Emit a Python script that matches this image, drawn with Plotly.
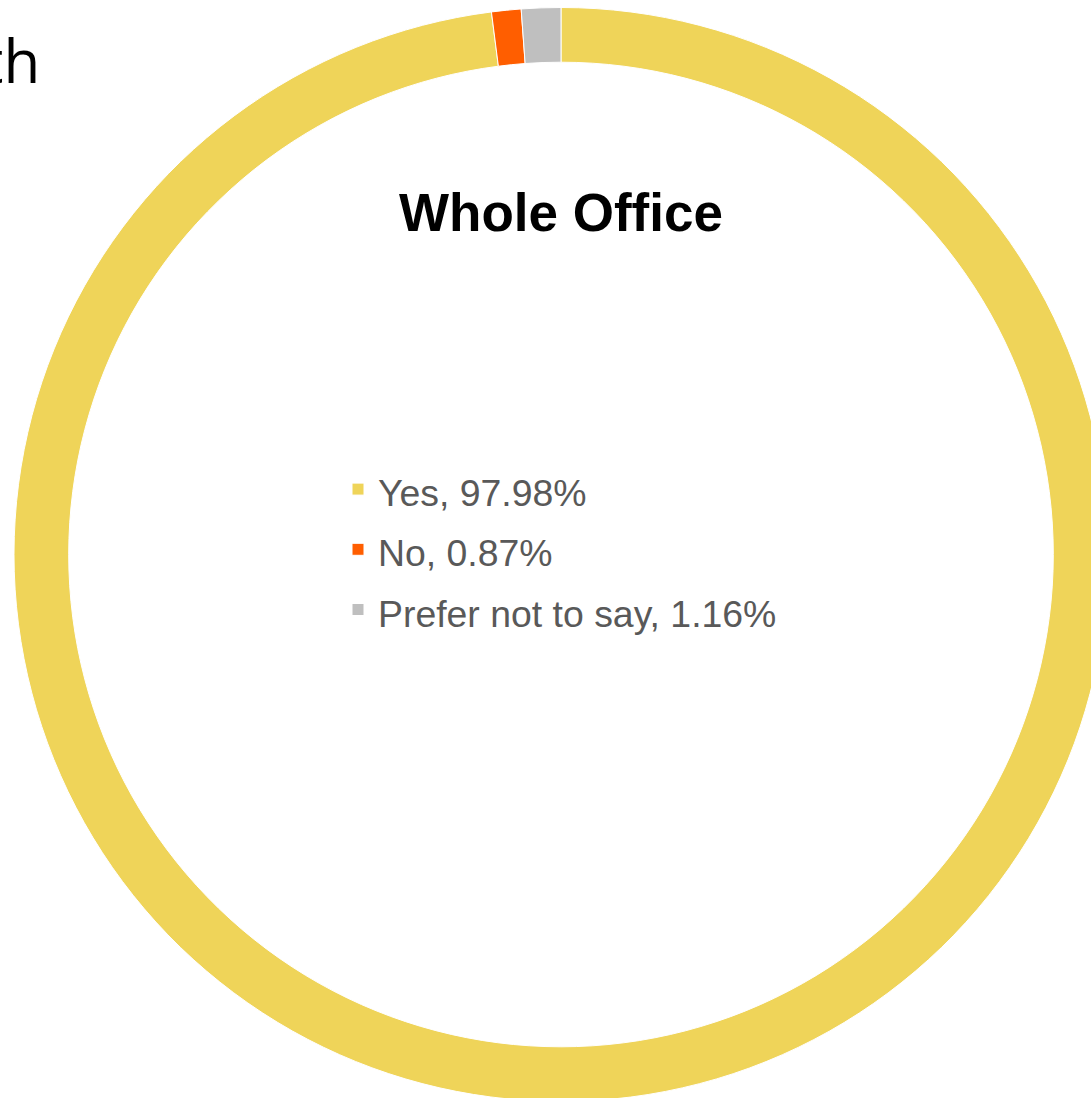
import plotly.graph_objects as go

categories = ["Yes", "No", "Prefer not to say"]
values = [97.98, 0.87, 1.16]
colors = ["#EFD459", "#FF5E00", "#BFBFBF"]
title_text = "Whole Office"
corner_text = "th"

W, H = 1108, 1102
labels = [f"<span style='font-size:37.4px'>{c}, {v:.2f}%</span>" for c, v in zip(categories, values)]

fig = go.Figure(go.Pie(
    labels=labels,
    values=values,
    hole=0.9,
    sort=False,
    direction="clockwise",
    rotation=0,
    textinfo="none",
    hoverinfo="label",
    marker=dict(colors=colors, line=dict(color="white", width=1)),
    domain=dict(x=[14 / W, 1.0], y=[0.5 / H, 1 - 7.5 / H]),
))

fig.update_layout(
    width=W, height=H,
    margin=dict(l=0, r=0, t=0, b=0),
    paper_bgcolor="white",
    showlegend=True,
    legend=dict(
        x=338 / W, xanchor="left",
        y=(H - 549.5) / H, yanchor="middle",
        font=dict(family="Liberation Sans, Arial, sans-serif", size=44, color="#595959"),
        bgcolor="rgba(0,0,0,0)",
    ),
    annotations=[
        dict(text=f"<b>{title_text}</b>", x=561 / W, y=(H - 212) / H,
             xref="paper", yref="paper", xanchor="center", yanchor="middle",
             showarrow=False,
             font=dict(family="Liberation Sans, Arial, sans-serif", size=53, color="black")),
        dict(text=corner_text, x=42 / W, y=(H - 60) / H,
             xref="paper", yref="paper", xanchor="right", yanchor="middle",
             showarrow=False,
             font=dict(family="Open Sans, sans-serif", size=60, color="black")),
    ],
)

fig.write_html(
    "out.html",
    config={"displayModeBar": False},
    post_script="document.body.style.margin='0';document.body.style.overflow='hidden';document.documentElement.style.overflow='hidden';",
)
